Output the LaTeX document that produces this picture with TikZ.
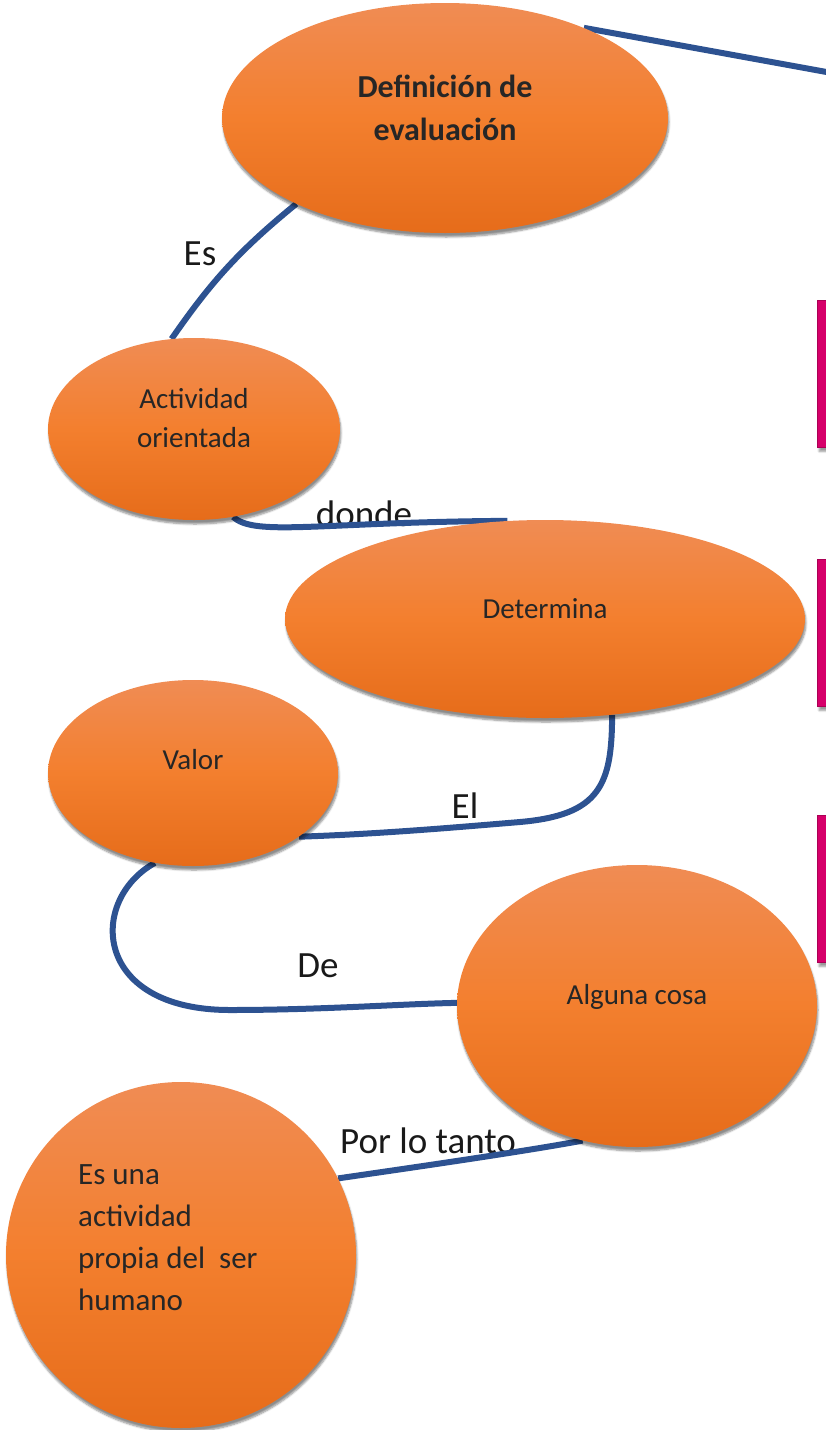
\documentclass[tikz,border=0pt]{standalone}
\usepackage{fontspec}
\setmainfont{Carlito}
\usetikzlibrary{shapes.geometric,shadows.blur,backgrounds,positioning}

\definecolor{naranjaclaro}{RGB}{240,140,84}
\definecolor{naranja}{RGB}{243,127,46}
\definecolor{naranjaoscuro}{RGB}{230,108,26}
\definecolor{azulenlace}{RGB}{45,82,145}
\definecolor{rosa}{RGB}{214,0,106}
\definecolor{textogris}{RGB}{38,38,38}

\tikzset{
	burbuja/.style={ellipse, inner sep=0pt, top color=naranjaclaro, bottom color=naranjaoscuro, middle color=naranja,
		blur shadow={shadow xshift=1pt, shadow yshift=-4pt, shadow blur steps=6, shadow opacity=45}},
	texto/.style={font=\fontsize{29}{39}\selectfont, text=textogris, align=center, inner sep=0pt},
	etiqueta/.style={font=\fontsize{37}{43}\selectfont, text=black!90, inner sep=0pt},
	enlace/.style={draw=azulenlace, line width=6pt},
	caja/.style={rectangle, fill=rosa, draw=rosa!80!black, line width=0.8pt, minimum width=60pt, minimum height=147pt,
		blur shadow={shadow xshift=2pt, shadow yshift=-4pt, shadow blur steps=5, shadow opacity=40}}
}

\begin{document}
\begin{tikzpicture}[x=1pt,y=-1pt]
	
	% marco de la figura (en pixeles)
	\useasboundingbox (0,0) rectangle (825,1430);
	
	% cajas rosas del borde derecho (cortadas por el marco)
	\node[caja] (caja1) at (847,374) {};
	\node[caja] (caja2) at (847,633) {};
	\node[caja] (caja3) at (847,889) {};
	
	% burbujas del mapa
	\node[burbuja, minimum width=446pt, minimum height=230pt] (def) at (445,118) {}; % Definicion de evaluacion
	\node[burbuja, minimum width=292pt, minimum height=182pt] (act) at (194,429) {}; % Actividad orientada
	\node[burbuja, minimum width=520pt, minimum height=198pt] (det) at (545,619) {}; % Determina
	\node[burbuja, minimum width=290pt, minimum height=186pt] (val) at (193,773) {}; % Valor
	\node[burbuja, minimum width=360pt, minimum height=282pt] (alg) at (637,1006) {}; % Alguna cosa
	\node[burbuja, minimum width=350pt, minimum height=346pt] (hum) at (181,1255) {}; % ser humano
	
	% textos de las burbujas
	\node[texto, font=\fontsize{32}{43}\selectfont\bfseries] (t-def) at ([yshift=10pt]def.center) {Definición de\\evaluación};
	\node[texto] (t-act) at ([yshift=11pt]act.center) {Actividad\\orientada};
	\node[texto] (t-det) at ([yshift=10pt]det.center) {Determina};
	\node[texto] (t-val) at ([yshift=13pt]val.center) {Valor};
	\node[texto] (t-alg) at ([yshift=9pt]alg.center) {Alguna cosa};
	\node[texto, font=\fontsize{31}{42}\selectfont, align=left, anchor=north west] (t-hum) at (78,1164) {Es una\\actividad\\propia del~ ser\\humano};
	
	% punto libre donde sale la linea de arriba
	\coordinate (fuera) at (832,73);
	
	% enlaces y sus palabras, detras de las burbujas
	\begin{scope}[on background layer]
		\node[etiqueta, anchor=base] (l-es) at (200,265) {Es};
		\node[etiqueta, anchor=base] (l-donde) at (364,526) {donde};
		\node[etiqueta, anchor=base] (l-el) at (465,818) {El};
		\node[etiqueta, anchor=base] (l-de) at (318,977) {De};
		\node[etiqueta, anchor=base west] (l-por) at (340,1153) {Por lo tanto};
		
		\draw[enlace] (def.33) -- (fuera);
		\draw[enlace] (def.210) to[bend right=8] (act.104);
		\draw[enlace] (act.-66) .. controls (255,537) and (320,522) .. (det.111);
		\draw[enlace] (det.-55) .. controls (612,785) and (600,815) .. (520,822) .. controls (460,827) and (380,834) .. (val.-31);
		\draw[enlace] (val.-113) .. controls (88,900) and (92,1010) .. (230,1010) .. controls (320,1010) and (400,1004) .. (alg.179);
		\draw[enlace] (alg.-112) .. controls (520,1152) and (430,1165) .. (hum.26);
	\end{scope}
	
\end{tikzpicture}
\end{document}
